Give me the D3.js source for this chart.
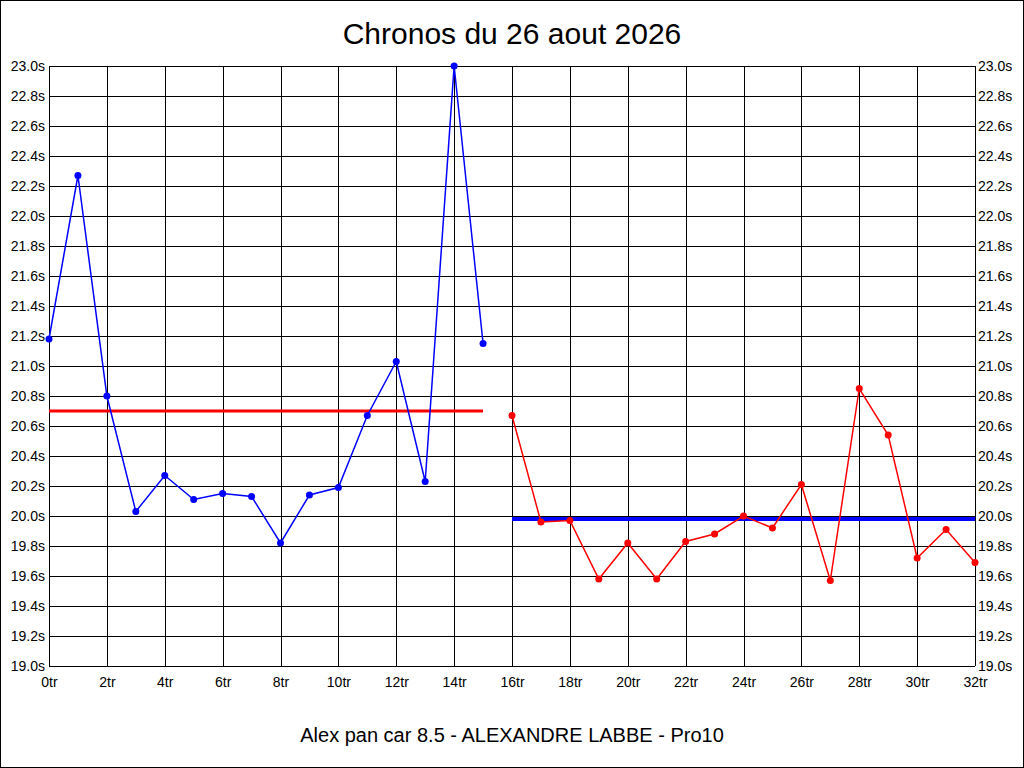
<!DOCTYPE html>
<html>
<head>
<meta charset="utf-8">
<script src="https://cdn.jsdelivr.net/npm/d3@7"></script>
<style>
  body { margin: 0; background: #fff; }
  svg { display: block; }
</style>
</head>
<body>
<script>
// Chronos par tour (lap index -> seconds)
var laps1 = [0, 1, 2, 3, 4, 5, 6, 7, 8, 9, 10, 11, 12, 13, 14, 15];
var times1 = [21.18, 22.27, 20.80, 20.03, 20.27, 20.11, 20.15, 20.13,
    19.82, 20.14, 20.19, 20.67, 21.03, 20.23, 23.00, 21.15];

var laps2 = [16, 17, 18, 19, 20, 21, 22, 23, 24, 25, 26, 27, 28, 29, 30, 31, 32];
var times2 = [20.67, 19.96, 19.97, 19.58, 19.82, 19.58, 19.83, 19.88,
    20.00, 19.92, 20.21, 19.57, 20.85, 20.54, 19.72, 19.91, 19.69];

// moyennes (lignes horizontales)
var avg1 = [20.70];
var avg2 = [19.98];

var yTicks = [19.0, 19.2, 19.4, 19.6, 19.8, 20.0, 20.2, 20.4, 20.6, 20.8,
    21.0, 21.2, 21.4, 21.6, 21.8, 22.0, 22.2, 22.4, 22.6, 22.8, 23.0];
var xTicks = [0, 2, 4, 6, 8, 10, 12, 14, 16, 18, 20, 22, 24, 26, 28, 30, 32];

var W = 1024, H = 768;
var mLeft = 49, mRight = 975, mTop = 66, mBottom = 666;

var svg = d3.select("body").append("svg")
    .attr("width", W)
    .attr("height", H)
    .style("font-family", "'Liberation Sans', Arial, sans-serif");

svg.append("rect")
    .attr("x", 0.5).attr("y", 0.5)
    .attr("width", W - 1).attr("height", H - 1)
    .attr("fill", "#fff")
    .attr("stroke", "#000");

var x = d3.scaleLinear().domain([0, 32]).range([mLeft, mRight]);
var y = d3.scaleLinear().domain([19, 23]).range([mBottom, mTop]);

// grille
var grid = svg.append("g").attr("stroke", "#000").attr("stroke-width", 1);
grid.selectAll("line.h")
    .data(yTicks)
    .enter().append("line")
    .attr("class", "h")
    .attr("x1", mLeft).attr("x2", mRight)
    .attr("y1", d => Math.round(y(d)) + 0.5)
    .attr("y2", d => Math.round(y(d)) + 0.5);
grid.selectAll("line.v")
    .data(xTicks)
    .enter().append("line")
    .attr("class", "v")
    .attr("y1", mTop).attr("y2", mBottom)
    .attr("x1", d => Math.round(x(d)) + 0.5)
    .attr("x2", d => Math.round(x(d)) + 0.5);

// axes (labels only, lines drawn by grid)
var fmtY = d => d.toFixed(1) + "s";

var axL = svg.append("g")
    .attr("transform", "translate(" + (mLeft - 3) + ",0)")
    .call(d3.axisLeft(y).tickValues(yTicks).tickFormat(fmtY).tickSize(0).tickPadding(1));
var axR = svg.append("g")
    .attr("transform", "translate(" + (mRight + 2) + ",0)")
    .call(d3.axisRight(y).tickValues(yTicks).tickFormat(fmtY).tickSize(0).tickPadding(1));
var axB = svg.append("g")
    .attr("transform", "translate(0," + (mBottom + 9) + ")")
    .call(d3.axisBottom(x).tickValues(xTicks).tickFormat(d => d + "tr").tickSize(0).tickPadding(2));

[axL, axR, axB].forEach(function (g) {
    g.select(".domain").remove();
    g.selectAll("text")
        .attr("font-family", "'Liberation Sans', Arial, sans-serif")
        .attr("font-size", "14px")
        .attr("fill", "#000");
});

// moyennes
svg.selectAll("line.avg1")
    .data(avg1)
    .enter().append("line")
    .attr("x1", x(0)).attr("x2", x(15))
    .attr("y1", d => y(d)).attr("y2", d => y(d))
    .attr("stroke", "#ff0000")
    .attr("stroke-width", 3);

svg.selectAll("line.avg2")
    .data(avg2)
    .enter().append("line")
    .attr("x1", x(16)).attr("x2", x(32))
    .attr("y1", d => y(d)).attr("y2", d => y(d))
    .attr("stroke", "#0000ff")
    .attr("stroke-width", 4);

// series
function drawSeries(laps, times, color) {
    var pts = laps.map((l, i) => [l, times[i]]);
    var line = d3.line().x(d => x(d[0])).y(d => y(d[1]));
    svg.append("path")
        .datum(pts)
        .attr("d", line)
        .attr("fill", "none")
        .attr("stroke", color)
        .attr("stroke-width", 1.5);
    svg.append("g").selectAll("circle")
        .data(pts)
        .enter().append("circle")
        .attr("cx", d => x(d[0]))
        .attr("cy", d => y(d[1]))
        .attr("r", 3.5)
        .attr("fill", color);
}
drawSeries(laps1, times1, "#0000ff");
drawSeries(laps2, times2, "#ff0000");

// titre et sous-titre
svg.append("text")
    .attr("x", W / 2).attr("y", 44)
    .attr("text-anchor", "middle")
    .attr("font-size", "30px")
    .text("Chronos du 26 aout 2026");

svg.append("text")
    .attr("x", W / 2).attr("y", 742)
    .attr("text-anchor", "middle")
    .attr("font-size", "20px")
    .text("Alex pan car 8.5 - ALEXANDRE LABBE - Pro10");
</script>
</body>
</html>
